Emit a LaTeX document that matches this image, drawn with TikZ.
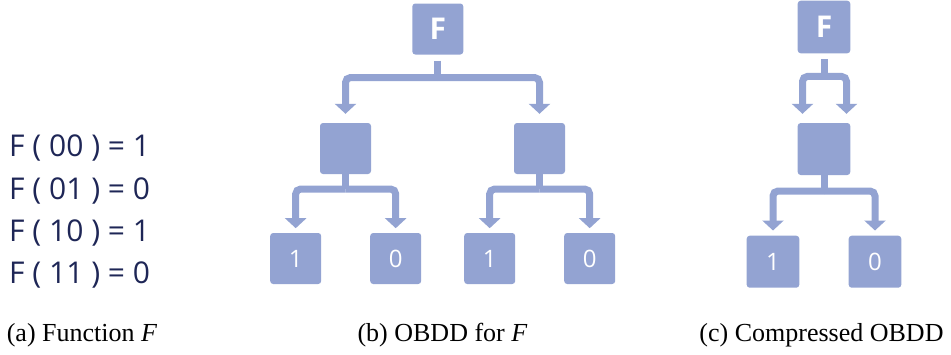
\documentclass[tikz,border=0pt]{standalone}
\usepackage{fontspec}
\setmainfont{Liberation Serif}
\newfontfamily\osans{Open Sans}
\usetikzlibrary{arrows.meta,calc}
\definecolor{boxc}{HTML}{93A3D2}
\definecolor{txtc}{HTML}{1E2656}
\begin{document}
\begin{tikzpicture}[x=1pt,y=-1pt,
  nodebox/.style={rectangle,fill=boxc,rounded corners=3pt,minimum width=51pt,minimum height=51pt,inner sep=0pt,text=white,font=\osans\fontsize{24}{24}\selectfont},
  rootbox/.style={nodebox,font=\osans\bfseries\fontsize{30}{30}\selectfont},
  stemline/.style={draw=boxc,line width=7pt},
  branch/.style={draw=boxc,line width=7pt,rounded corners=5pt,-{Triangle[width=21pt,length=10pt]}},
  eqtext/.style={anchor=base west,inner sep=0pt,text=txtc,font=\osans\fontsize{30}{30}\selectfont},
  captext/.style={anchor=base,inner sep=0pt,text=black,font=\fontsize{26}{26}\selectfont}]
\useasboundingbox (0,0) rectangle (951,354);

% (a) function table
\node[eqtext] (e1) at (9,156.7) {F ( 00 ) = 1};
\node[eqtext] (e2) at (9,199) {F ( 01 ) = 0};
\node[eqtext] (e3) at (9,241.3) {F ( 10 ) = 1};
\node[eqtext] (e4) at (9,283.5) {F ( 11 ) = 0};

% (b) OBDD
\node[rootbox] (F) at (437.8,29) {F};
\node[nodebox] (L) at (345.5,148.5) {};
\node[nodebox] (R) at (539.5,148.5) {};
\node[nodebox] (LL) at (295.7,258.5) {1};
\node[nodebox] (LR) at (395.7,258.5) {0};
\node[nodebox] (RL) at (489.7,258.5) {1};
\node[nodebox] (RR) at (589.7,258.5) {0};
\coordinate (jF) at (437.8,77.5);
\coordinate (jL) at (345.5,189);
\coordinate (jR) at (539.5,189);
\draw[stemline,shorten <=6pt] (F.south) -- (jF);
\draw[branch,shorten >=9pt] (jF) -| (L.north);
\draw[branch,shorten >=9pt] (jF) -| (R.north);
\draw[stemline] (L.south) -- (jL);
\draw[branch,shorten >=4.6pt] (jL) -| (LL.north);
\draw[branch,shorten >=4.6pt] (jL) -| (LR.north);
\draw[stemline] (R.south) -- (jR);
\draw[branch,shorten >=4.6pt] (jR) -| (RL.north);
\draw[branch,shorten >=4.6pt] (jR) -| (RR.north);

% (c) compressed OBDD
\node[rootbox,minimum width=52.6pt,minimum height=52.6pt] (F2) at (824,27) {F};
\node[nodebox,minimum width=52.6pt,minimum height=52pt] (M2) at (824,149) {};
\node[nodebox,minimum width=52.6pt,minimum height=52pt] (A2) at (773,261.7) {1};
\node[nodebox,minimum width=52.6pt,minimum height=52pt] (B2) at (875,261.7) {0};
\coordinate (jF2) at (824,76.4);
\coordinate (jM2) at (824,191);
\draw[stemline,shorten <=5.5pt] (F2.south) -- (jF2);
\draw[branch,shorten >=9pt] (jF2) -| ([xshift=-21.5pt]M2.north);
\draw[branch,shorten >=9pt] (jF2) -| ([xshift=22.5pt]M2.north);
\draw[stemline] (M2.south) -- (jM2);
\draw[branch,shorten >=5pt] (jM2) -| (A2.north);
\draw[branch,shorten >=5pt] (jM2) -| (B2.north);

% captions
\node[captext] (ca) at (82,341) {(a) Function \textit{F}};
\node[captext] (cb) at (442.5,341) {(b) OBDD for \textit{F}};
\node[captext] (cc) at (821.5,341) {(c) Compressed OBDD};
\end{tikzpicture}
\end{document}
